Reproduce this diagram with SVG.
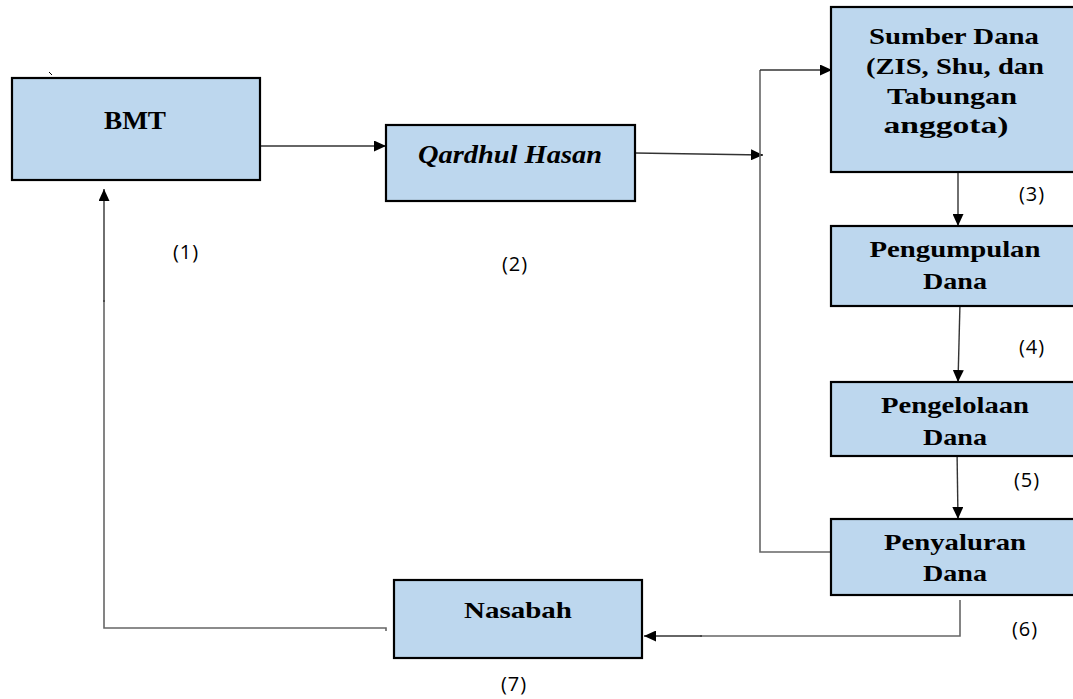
<svg xmlns="http://www.w3.org/2000/svg" width="1073" height="699" viewBox="0 0 1073 699">
<style>
.box{fill:#BDD7EE;stroke:#000;stroke-width:2.2}
.t{font-family:"Liberation Serif","Times New Roman",serif;font-weight:bold;font-size:24px;fill:#000;text-anchor:middle}
.b{font-size:26px}
.n{font-family:"Open Sans","Noto Sans",sans-serif;font-size:20px;letter-spacing:1px;fill:#000;text-anchor:middle}
.c{fill:none;stroke:#333;stroke-width:1.4}
.g{fill:none;stroke:#666;stroke-width:1.6}
</style>
<defs>
<marker id="ah" viewBox="0 0 12 11" refX="12" refY="5.5" markerWidth="12" markerHeight="11" markerUnits="userSpaceOnUse" orient="auto">
<path d="M0,0L12,5.5L0,11z" fill="#000"/>
</marker>
</defs>
<rect width="1073" height="699" fill="#fff"/>
<g id="connectors">
<line class="c" x1="260" y1="146" x2="386" y2="146" marker-end="url(#ah)"/>
<line class="c" x1="635" y1="153" x2="763" y2="155" marker-end="url(#ah)"/>
<polyline class="g" points="837,552 760,552 760,70"/>
<line class="c" x1="760" y1="70" x2="832" y2="70" marker-end="url(#ah)"/>
<line class="c" x1="958" y1="162" x2="958" y2="226" marker-end="url(#ah)"/>
<line class="c" x1="960" y1="303" x2="958" y2="382" marker-end="url(#ah)"/>
<line class="c" x1="957" y1="449" x2="958" y2="519" marker-end="url(#ah)"/>
<polyline class="g" points="960,600 960,636 700,636"/>
<line class="c" x1="702" y1="636" x2="644" y2="636" marker-end="url(#ah)"/>
<polyline class="g" points="386,631 386,628 104,628 104,300"/>
<line class="c" x1="104" y1="302" x2="104" y2="189" marker-end="url(#ah)"/>
<line x1="49" y1="72" x2="52" y2="75" stroke="#000" stroke-width="1"/>
</g>
<g id="bmt">
<rect class="box" x="12" y="78" width="248" height="102"/>
<text class="t b" x="135" y="129" textLength="62" lengthAdjust="spacingAndGlyphs">BMT</text>
</g>
<g id="qardhul">
<rect class="box" x="386" y="125" width="249" height="76"/>
<text class="t b" x="510" y="163" font-style="italic" textLength="184" lengthAdjust="spacingAndGlyphs">Qardhul Hasan</text>
</g>
<g id="sumber">
<rect class="box" x="831" y="7" width="256" height="165"/>
<text class="t" x="954" y="44" textLength="170" lengthAdjust="spacingAndGlyphs">Sumber Dana</text>
<text class="t" x="955" y="74" textLength="178" lengthAdjust="spacingAndGlyphs">(ZIS, Shu, dan</text>
<text class="t" x="952" y="104" textLength="130" lengthAdjust="spacingAndGlyphs">Tabungan</text>
<text class="t" x="946" y="133" textLength="125" lengthAdjust="spacingAndGlyphs">anggota)</text>
</g>
<g id="pengumpulan">
<rect class="box" x="831" y="226" width="256" height="80"/>
<text class="t" x="955" y="257" textLength="171" lengthAdjust="spacingAndGlyphs">Pengumpulan</text>
<text class="t" x="955" y="289" textLength="64" lengthAdjust="spacingAndGlyphs">Dana</text>
</g>
<g id="pengelolaan">
<rect class="box" x="831" y="382" width="256" height="74"/>
<text class="t" x="955" y="413" textLength="148" lengthAdjust="spacingAndGlyphs">Pengelolaan</text>
<text class="t" x="955" y="445" textLength="64" lengthAdjust="spacingAndGlyphs">Dana</text>
</g>
<g id="penyaluran">
<rect class="box" x="831" y="519" width="256" height="76"/>
<text class="t" x="955" y="550" textLength="142" lengthAdjust="spacingAndGlyphs">Penyaluran</text>
<text class="t" x="955" y="581" textLength="64" lengthAdjust="spacingAndGlyphs">Dana</text>
</g>
<g id="nasabah">
<rect class="box" x="394" y="580" width="248" height="78"/>
<text class="t" x="518" y="618" textLength="108" lengthAdjust="spacingAndGlyphs">Nasabah</text>
</g>
<g id="labels">
<text class="n" x="186" y="259">(1)</text>
<text class="n" x="515" y="271">(2)</text>
<text class="n" x="1032" y="201">(3)</text>
<text class="n" x="1032" y="354">(4)</text>
<text class="n" x="1027" y="487">(5)</text>
<text class="n" x="1025" y="636">(6)</text>
<text class="n" x="514" y="691">(7)</text>
</g>
</svg>
